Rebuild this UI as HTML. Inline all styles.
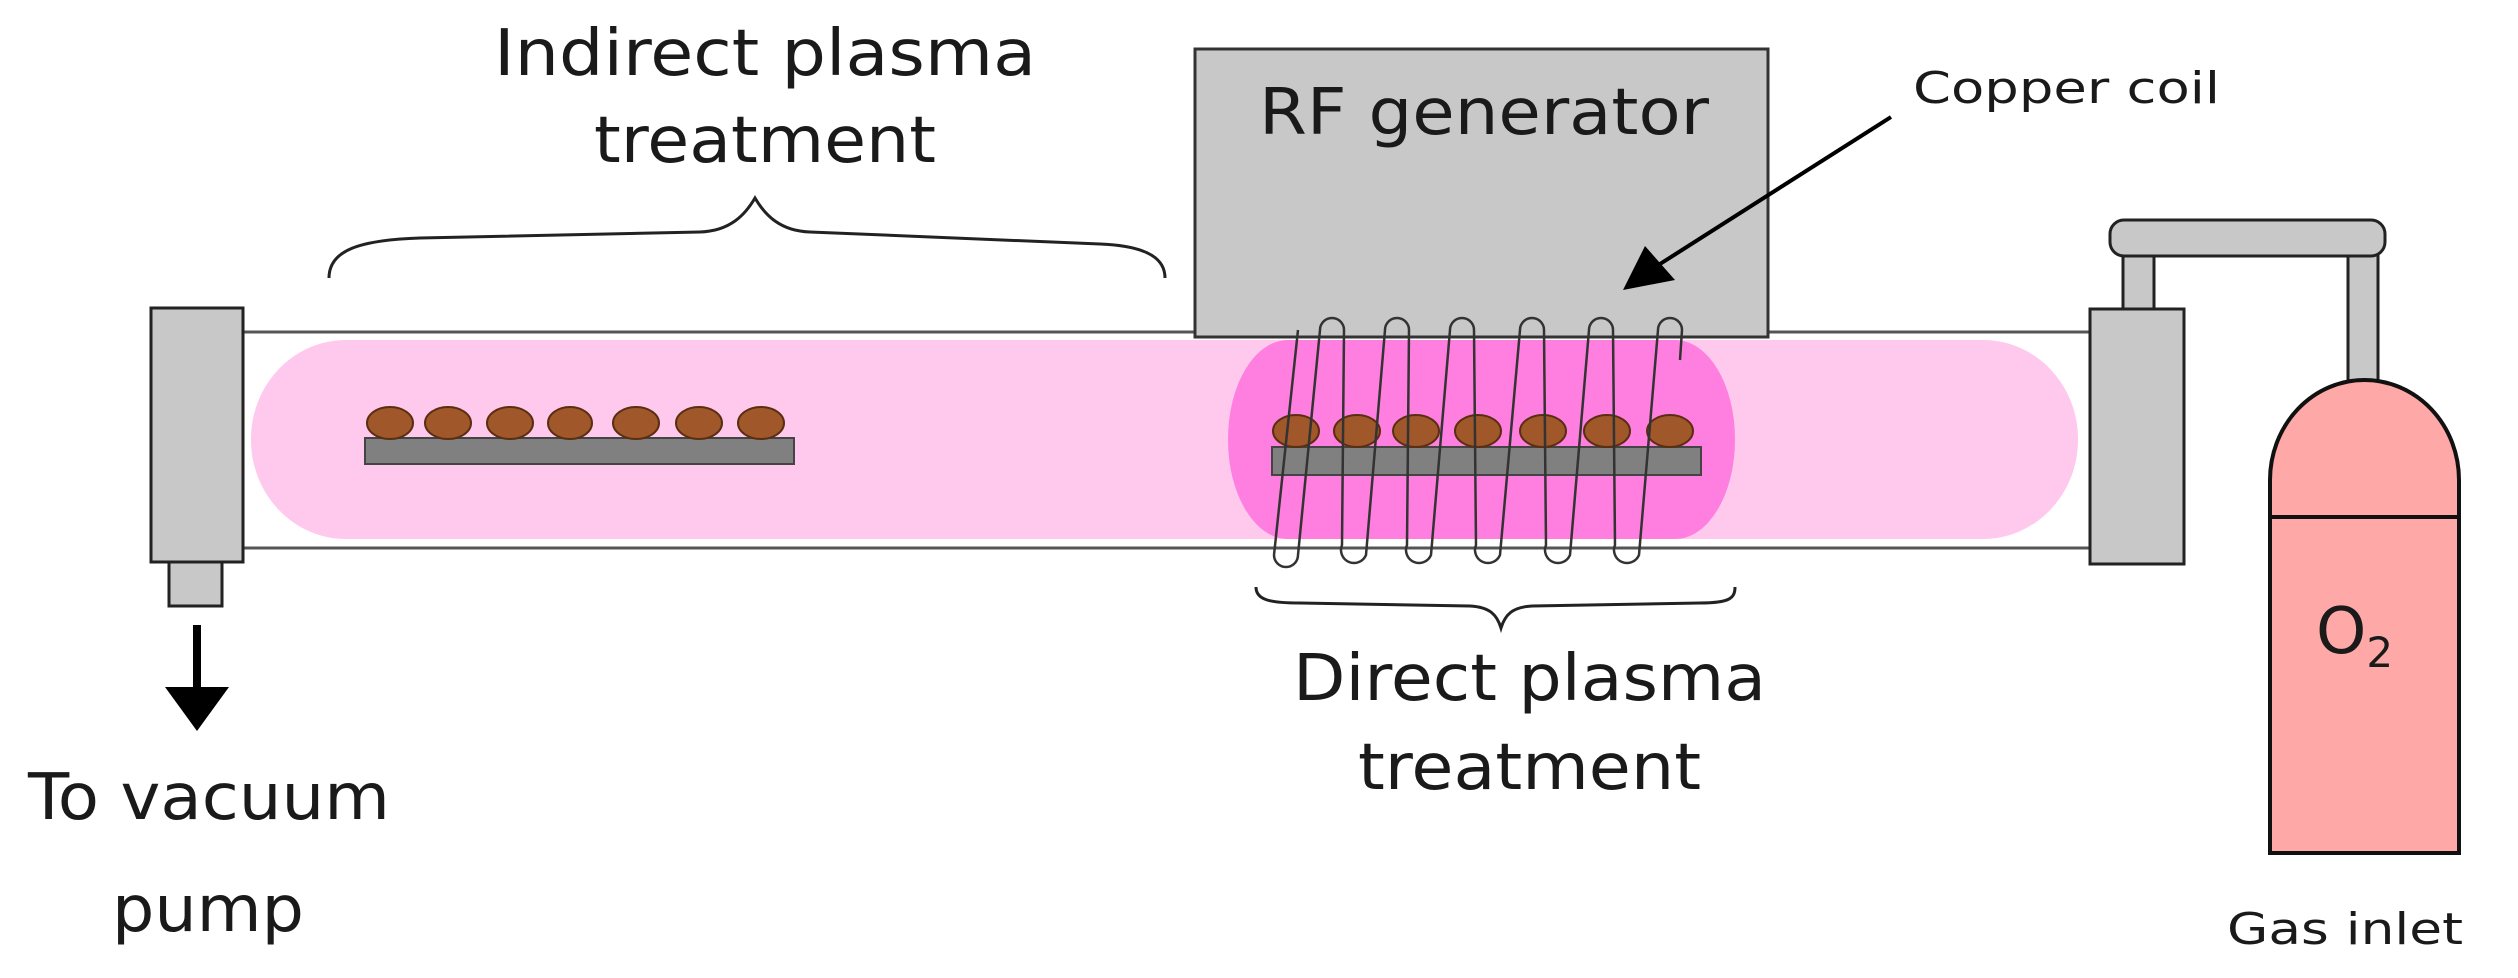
<!DOCTYPE html>
<html><head><meta charset="utf-8"><style>
html,body{margin:0;padding:0;background:#fff;}
svg{display:block;}
text{font-family:"DejaVu Sans","Liberation Sans",sans-serif;fill:#1a1a1a;}
</style></head><body>
<svg width="2518" height="978" viewBox="0 0 2518 978" xmlns="http://www.w3.org/2000/svg">
<!-- tube -->
<rect x="244" y="332" width="1849" height="216" fill="#fff"/>
<line x1="244" y1="332" x2="2093" y2="332" stroke="#555" stroke-width="3"/>
<line x1="244" y1="548" x2="2093" y2="548" stroke="#555" stroke-width="3"/>
<!-- light plasma -->
<rect x="251" y="340" width="1827" height="199" rx="95" ry="99" fill="#ffc9ee"/>
<!-- dark plasma -->
<rect x="1228" y="340" width="507" height="199" rx="60" ry="99" fill="#ff7fe0"/>
<!-- RF generator -->
<rect x="1195" y="49" width="573" height="288" fill="#c8c8c8" stroke="#333" stroke-width="3"/>
<text x="1259" y="134" font-size="64" textLength="450" lengthAdjust="spacingAndGlyphs">RF generator</text>
<!-- left flange -->
<rect x="151" y="308" width="92" height="254" fill="#c8c8c8" stroke="#222" stroke-width="3"/>
<rect x="169" y="562" width="53" height="44" fill="#c8c8c8" stroke="#222" stroke-width="3"/>
<!-- vacuum arrow -->
<line x1="197" y1="625" x2="197" y2="690" stroke="#000" stroke-width="8"/>
<polygon points="165,687 229,687 197,731" fill="#000"/>
<text x="28" y="819" font-size="64" textLength="362" lengthAdjust="spacingAndGlyphs">To vacuum</text>
<text x="112" y="931" font-size="64" textLength="192" lengthAdjust="spacingAndGlyphs">pump</text>
<!-- indirect labels -->
<text x="494" y="75" font-size="64" textLength="542" lengthAdjust="spacingAndGlyphs">Indirect plasma</text>
<text x="594" y="162" font-size="64" textLength="342" lengthAdjust="spacingAndGlyphs">treatment</text>
<path d="M329,278 C329,250 360,240 420,238 L700,232 C730,231 745,215 755,198 C765,215 780,231 810,232 L1100,244 C1150,246 1165,260 1165,278" fill="none" stroke="#222" stroke-width="3"/>
<!-- left tray -->
<rect x="365" y="438" width="429" height="26" fill="#808080" stroke="#444" stroke-width="2"/>
<g fill="#a0572a" stroke="#5a2e10" stroke-width="2">
<ellipse cx="390" cy="423" rx="23" ry="16"/><ellipse cx="448" cy="423" rx="23" ry="16"/><ellipse cx="510" cy="423" rx="23" ry="16"/><ellipse cx="570" cy="423" rx="22" ry="16"/><ellipse cx="636" cy="423" rx="23" ry="16"/><ellipse cx="699" cy="423" rx="23" ry="16"/><ellipse cx="761" cy="423" rx="23" ry="16"/>
</g>
<!-- right tray -->
<rect x="1272" y="447" width="429" height="28" fill="#808080" stroke="#444" stroke-width="2"/>
<g fill="#a0572a" stroke="#5a2e10" stroke-width="2">
<ellipse cx="1296" cy="431" rx="23" ry="16"/><ellipse cx="1357" cy="431" rx="23" ry="16"/><ellipse cx="1416" cy="431" rx="23" ry="16"/><ellipse cx="1478" cy="431" rx="23" ry="16"/><ellipse cx="1543" cy="431" rx="23" ry="16"/><ellipse cx="1607" cy="431" rx="23" ry="16"/><ellipse cx="1670" cy="431" rx="23" ry="16"/>
</g>
<!-- coils -->
<g fill="none" stroke="#333" stroke-width="2.5">
<path d="M1274,555 A12,12 0 0 0 1298,555 L1320,330 A12,12 0 0 1 1344,330 L1342,545 A12,12 0 0 0 1366,555 L1385,330 A12,12 0 0 1 1409,330 L1407,545 A12,12 0 0 0 1431,555 L1450,330 A12,12 0 0 1 1474,330 L1476,545 A12,12 0 0 0 1500,555 L1520,330 A12,12 0 0 1 1544,330 L1546,545 A12,12 0 0 0 1570,555 L1589,330 A12,12 0 0 1 1613,330 L1615,545 A12,12 0 0 0 1639,555 L1658,330 A12,12 0 0 1 1682,330 L1680,360"/>
<path d="M1274,555 L1298,330"/>
</g>
<!-- copper coil arrow -->
<line x1="1891" y1="117" x2="1660" y2="264" stroke="#000" stroke-width="4"/>
<polygon points="1623,290 1645,246 1675,280" fill="#000"/>
<text x="1913" y="103" font-size="44" textLength="307" lengthAdjust="spacingAndGlyphs">Copper coil</text>
<!-- direct labels -->
<path d="M1256,587 C1256,600 1270,603 1300,603 L1470,606 C1490,607 1497,615 1501,628 C1505,615 1512,607 1532,606 L1700,603 C1730,603 1735,598 1735,587" fill="none" stroke="#222" stroke-width="3"/>
<text x="1293" y="700" font-size="64" textLength="473" lengthAdjust="spacingAndGlyphs">Direct plasma</text>
<text x="1358" y="789" font-size="64" textLength="343" lengthAdjust="spacingAndGlyphs">treatment</text>
<!-- right flange & pipes -->
<rect x="2123" y="254" width="31" height="56" fill="#c8c8c8" stroke="#222" stroke-width="3"/>
<rect x="2348" y="254" width="30" height="130" fill="#c8c8c8" stroke="#222" stroke-width="3"/>
<rect x="2110" y="220" width="275" height="36" rx="14" fill="#c8c8c8" stroke="#222" stroke-width="3"/>
<rect x="2090" y="309" width="94" height="255" fill="#c8c8c8" stroke="#222" stroke-width="3"/>
<!-- cylinder -->
<path d="M2270,853 V480 A94.5,100 0 0 1 2459,480 V853 Z" fill="#ffa8a8" stroke="#111" stroke-width="4"/>
<line x1="2270" y1="517" x2="2459" y2="517" stroke="#111" stroke-width="4"/>
<text x="2316" y="653" font-size="64">O<tspan font-size="42" dy="14">2</tspan></text>
<text x="2227" y="944" font-size="44" textLength="236" lengthAdjust="spacingAndGlyphs">Gas inlet</text>
</svg>
</body></html>
